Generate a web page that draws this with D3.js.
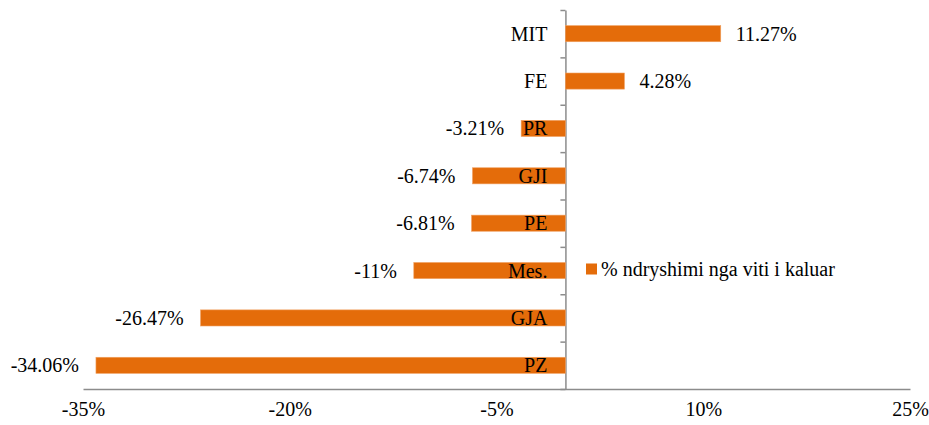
<!DOCTYPE html>
<html>
<head>
<meta charset="utf-8">
<script src="https://cdn.jsdelivr.net/npm/d3@7"></script>
<style>
  body { margin: 0; background: #fff; }
</style>
</head>
<body>
<svg id="chart" width="929" height="425" font-family="Times New Roman, Liberation Serif, DejaVu Serif, serif"></svg>
<script>
// data
const categories = ["MIT", "FE", "PR", "GJI", "PE", "Mes.", "GJA", "PZ"];
const changes = [11.27, 4.28, -3.21, -6.74, -6.81, -11, -26.47, -34.06];
const valueLabels = ["11.27%", "4.28%", "-3.21%", "-6.74%", "-6.81%", "-11%", "-26.47%", "-34.06%"];
const xTicks = [-35, -20, -5, 10, 25];
const seriesName = "% ndryshimi nga viti i kaluar";

const barColor = "#E46C0A";
const axisColor = "#8c8c8c";
const fontFamily = "Times New Roman, Liberation Serif, DejaVu Serif, serif";

const svg = d3.select("#chart");

const x = d3.scaleLinear().domain([-35, 25]).range([83, 910]);
const y = d3.scaleBand()
    .domain(categories)
    .range([10, 389])
    .paddingInner(0.66)
    .paddingOuter(0.33);

// y axis: ticks sit on category boundaries
const yBound = d3.scaleLinear().domain([0, categories.length]).range([389, 10]);
svg.append("g")
    .attr("transform", `translate(${x(0)},0)`)
    .call(d3.axisLeft(yBound).tickValues(d3.range(categories.length + 1)).tickSize(5).tickSizeOuter(0).tickFormat(""))
    .call(g => g.selectAll("line, path").attr("stroke", axisColor).attr("stroke-width", 1.5));

// bars
svg.append("g").selectAll("rect")
    .data(changes)
    .join("rect")
    .attr("x", d => x(Math.min(0, d)))
    .attr("width", d => Math.abs(x(d) - x(0)))
    .attr("y", (d, i) => y(categories[i]))
    .attr("height", y.bandwidth())
    .attr("fill", barColor)
    .attr("stroke", "#f0a060")
    .attr("stroke-width", 0.6);

// x axis
svg.append("g")
    .attr("transform", "translate(0,389)")
    .call(d3.axisBottom(x).tickValues(xTicks).tickSize(0).tickPadding(13).tickFormat(d => d + "%"))
    .call(g => g.select(".domain").attr("stroke", axisColor).attr("stroke-width", 1.5))
    .call(g => g.attr("font-family", fontFamily).attr("font-size", 20))
    .call(g => g.selectAll("text").attr("fill", "#000"));

// category labels, just left of the zero line
svg.append("g").selectAll("text")
    .data(categories)
    .join("text")
    .attr("x", x(0) - 18)
    .attr("y", d => y(d) + y.bandwidth() / 2)
    .attr("dy", "0.35em")
    .attr("text-anchor", "end")
    .attr("font-size", 20)
    .text(d => d);

// value labels at bar ends
svg.append("g").selectAll("text")
    .data(changes)
    .join("text")
    .attr("x", d => d >= 0 ? x(d) + 15 : x(d) - 17)
    .attr("y", (d, i) => y(categories[i]) + y.bandwidth() / 2)
    .attr("dy", "0.35em")
    .attr("text-anchor", d => d >= 0 ? "start" : "end")
    .attr("font-size", 20)
    .text((d, i) => valueLabels[i]);

// legend
const legend = svg.append("g").attr("transform", "translate(586,269)");
legend.append("rect").attr("x", 0).attr("y", -5.5).attr("width", 11).attr("height", 11).attr("fill", barColor);
legend.append("text").attr("x", 15).attr("dy", "0.35em").attr("font-size", 20).text(seriesName);
</script>
</body>
</html>
